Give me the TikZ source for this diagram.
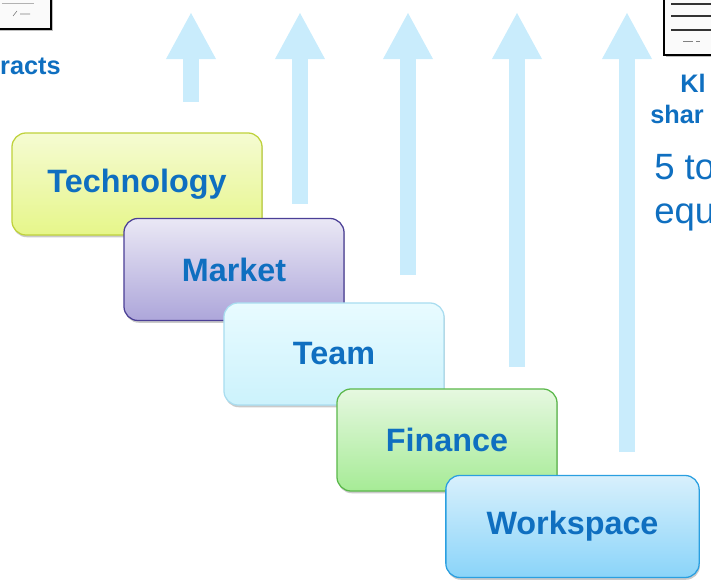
\documentclass[tikz,border=0pt]{standalone}
\usepackage{xcolor}
\usepackage{fontspec}
\usepackage{tikz}
\usetikzlibrary{arrows.meta,shadows}
\newfontfamily\arialfont{Liberation Sans}

\definecolor{txtblue}{HTML}{0F6FC0}
\definecolor{arrowblue}{HTML}{C9ECFC}
\definecolor{techTop}{HTML}{F5FBD2}
\definecolor{techBot}{HTML}{E6F68A}
\definecolor{techLine}{HTML}{BFD23C}
\definecolor{mktTop}{HTML}{EAE8F5}
\definecolor{mktBot}{HTML}{ADA6DA}
\definecolor{mktLine}{HTML}{4B3F96}
\definecolor{teamTop}{HTML}{E8FBFF}
\definecolor{teamBot}{HTML}{CCF2FC}
\definecolor{teamLine}{HTML}{A9DDF0}
\definecolor{finTop}{HTML}{E6F8E0}
\definecolor{finBot}{HTML}{A6EB96}
\definecolor{finLine}{HTML}{5BB84B}
\definecolor{wsTop}{HTML}{D8F0FC}
\definecolor{wsBot}{HTML}{8AD4F9}
\definecolor{wsLine}{HTML}{2A9FE0}

\begin{document}
\begin{tikzpicture}[x=0.025cm, y=-0.025cm,
		stair/.style={rectangle, rounded corners=0.35cm, line width=0.9pt,
			minimum width=5.5cm, minimum height=2.55cm,
			font=\arialfont\bfseries\fontsize{23}{27}\selectfont, text=txtblue,
			drop shadow={shadow xshift=0.6pt, shadow yshift=-1.6pt, opacity=0.35, fill=black!60}},
		uparrow/.style={line width=0.42cm, draw=arrowblue,
			-{Triangle[width=1.25cm,length=1.15cm,line width=0pt,fill=arrowblue]}},
		paper/.style={line width=1.6pt, draw=black, fill=gray!4,
			drop shadow={shadow xshift=1.2pt, shadow yshift=-1.2pt, opacity=0.5}},
		side/.style={text=txtblue, font=\arialfont\bfseries\fontsize{18}{21}\selectfont},
		sidebig/.style={text=txtblue, font=\arialfont\fontsize{26}{30}\selectfont}]
					\useasboundingbox (0,0) rectangle (711,583);
					\clip (0,0) rectangle (711,583);
					
					% arrows
					\foreach \x/\yb [count=\i] in {191/102, 300/204, 408/275, 517/367, 627/452} {
						\coordinate (base\i) at (\x,\yb);
						\coordinate (tip\i) at (\x,13);
						\draw[uparrow] (base\i) -- (tip\i);
					}
					
					% papers
					\draw[paper] (-20,-20) rectangle (51,29);
					\draw[gray!60, line width=0.5pt] (2,3) -- (34,3);
					\draw[gray, line width=0.4pt] (13,16) -- (17,11) (20,14) -- (30,14);
					\node[side, anchor=base east, inner sep=0pt] (contracts) at (61,75) {racts};
					
					\draw[paper] (664,-20) rectangle (735,55);
					\draw[black!80, line width=0.8pt] (671,4) -- (711,4) (671,16) -- (711,16) (671,30) -- (711,30);
					\draw[gray, line width=0.4pt] (683,41) -- (693,41) (696,41) -- (700,41);
					\node[side, anchor=base west, inner sep=0pt] (kl) at (680,93) {Kl};
					\node[side, anchor=base west, inner sep=0pt] (shar) at (650,124) {shar};
					\node[sidebig, anchor=base west, inner sep=0pt] (fiveto) at (654,180) {5 to};
					\node[sidebig, anchor=base west, inner sep=0pt] (equ) at (654,224) {equ};
					
					% stairs
					\node[stair, minimum width=6.25cm, draw=techLine, top color=techTop, bottom color=techBot]
						(tech) at (137,184) {Technology};
					\node[stair, draw=mktLine, top color=mktTop, bottom color=mktBot]
						(market) at (234,269.5) {Market};
					\node[stair, draw=teamLine, top color=teamTop, bottom color=teamBot]
						(team) at (334,354) {Team};
					\node[stair, draw=finLine, top color=finTop, bottom color=finBot]
						(finance) at (447,440) {Finance};
					\node[stair, minimum width=6.33cm, draw=wsLine, top color=wsTop, bottom color=wsBot]
						(workspace) at (572.5,526.5) {Workspace};
				\end{tikzpicture}
\end{document}
